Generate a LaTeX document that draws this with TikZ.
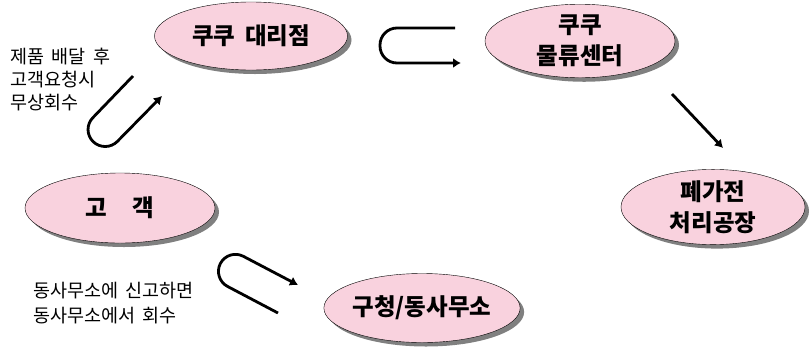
\documentclass[tikz,border=0pt]{standalone}
\usepackage{fontspec}
\setmainfont[WordSpace=1.8]{Noto Sans CJK KR}
\usepackage{tikz}
\usetikzlibrary{arrows.meta,shapes.geometric,shadows}
\definecolor{sitepink}{RGB}{249,210,222}

\begin{document}
\begin{tikzpicture}[x=1pt,y=-1pt,
  site/.style={ellipse,draw=black,fill=sitepink,inner sep=0pt,align=center,
    font=\fontsize{23.5}{31}\selectfont\bfseries,
    drop shadow={shadow xshift=4pt,shadow yshift=-4pt,fill=black!50,opacity=1}},
  note/.style={align=left,inner sep=0pt,anchor=north west},
  edge/.style={line width=2.8pt,-{Latex[length=8pt,width=10pt]}},
  uturn/.style={edge,rounded corners=17pt}]
\useasboundingbox (0,0) rectangle (810,349);

\node(dealer)[site,minimum width=193pt,minimum height=68pt] at (251,36) {쿠쿠 대리점};
\node(hub)[site,minimum width=190pt,minimum height=72pt] at (580,41) {쿠쿠\\물류센터};
\node(plant)[site,minimum width=184pt,minimum height=67pt] at (713,207) {폐가전\\처리공장};
\node(customer)[site,minimum width=190pt,minimum height=70pt] at (120,208) {고\hspace{1.1em}객};
\node(office)[site,minimum width=195pt,minimum height=69pt] at (422,308) {구청/동사무소};

\node(freepick)[note,font=\fontsize{18.5}{23}\selectfont] at (10,48) {제품 배달 후\\고객요청시\\무상회수};
\node(report)[note,font=\fontsize{18.5}{25}\selectfont] at (33,282) {동사무소에 신고하면\\동사무소에서 회수};

\coordinate (a1) at (133,76);
\coordinate (a2) at (81,130);
\coordinate (a3) at (105.5,153.5);
\coordinate (a4) at (162,96);
\coordinate (b1) at (455,28);
\coordinate (b2) at (380,28);
\coordinate (b3) at (380,63);
\coordinate (b4) at (461,63);
\coordinate (c1) at (278,313);
\coordinate (c2) at (212.5,278.5);
\coordinate (c3) at (228.3,248.4);
\coordinate (c4) at (298,285);
\coordinate (d1) at (672,94);
\coordinate (d2) at (723,148);

\draw [uturn] (a1) -- (a2) -- (a3) -- (a4);
\draw [uturn] (b1) -- (b2) -- (b3) -- (b4);
\draw [uturn] (c1) -- (c2) -- (c3) -- (c4);
\draw [edge] (d1) -- (d2);
\end{tikzpicture}
\end{document}
